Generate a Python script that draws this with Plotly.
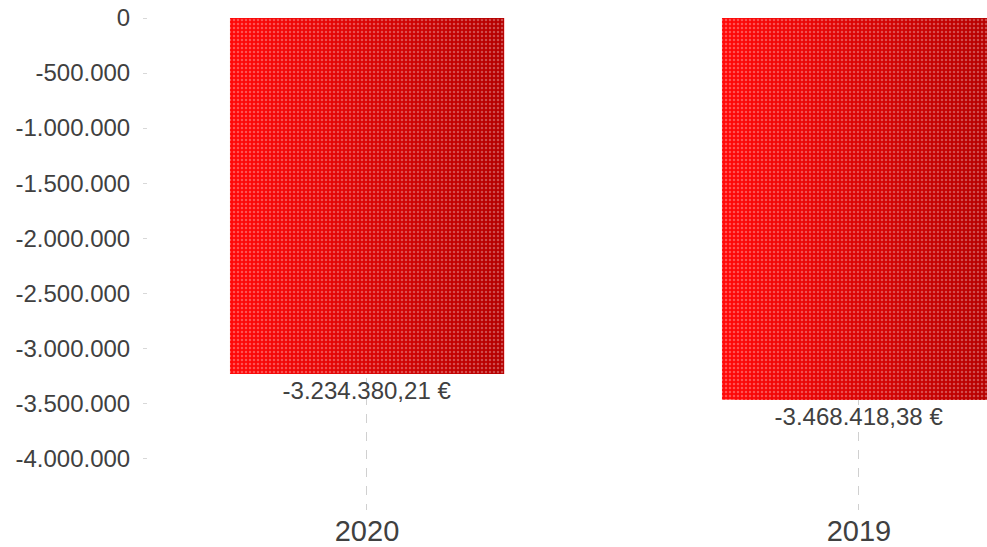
import plotly.graph_objects as go

# ---- data ----
years = ["2020", "2019"]
values = [-3234380.21, -3468418.38]
tick_vals = [0, -500000, -1000000, -1500000, -2000000, -2500000, -3000000, -3500000, -4000000]
tick_text = ["0", "-500.000", "-1.000.000", "-1.500.000", "-2.000.000",
             "-2.500.000", "-3.000.000", "-3.500.000", "-4.000.000"]


def fmt_eur(v):
    s = f"{abs(v):,.2f}"
    s = s.replace(",", "X").replace(".", ",").replace("X", ".")
    return ("-" if v < 0 else "") + s + " €"


labels = [fmt_eur(v) for v in values]

fig = go.Figure()

BAR_W = 0.557
N = 24
c0 = (255, 8, 8)
c1 = (182, 0, 0)
for k in range(N):
    t = k / (N - 1)
    col = "rgb({},{},{})".format(*[round(a + (b - a) * t) for a, b in zip(c0, c1)])
    w = BAR_W * (1 - k / N)
    fig.add_trace(go.Bar(
        x=years, y=values,
        width=[w] * len(years),
        offset=[-BAR_W / 2 + BAR_W * k / N] * len(years),
        marker=dict(color=col, line=dict(width=0),
                    pattern=dict(shape=".", size=4, solidity=0.3,
                                 fgcolor="rgba(255,255,255,0.6)", fillmode="overlay")),
        text=labels if k == 0 else None,
        textposition="outside" if k == 0 else "none",
        cliponaxis=False,
        textfont=dict(family="Liberation Sans, Arial", size=24, color="#404040"),
        showlegend=False,
        hoverinfo="skip",
    ))

fig.update_layout(
    width=987, height=547,
    margin=dict(l=148, r=0, t=18, b=37, autoexpand=False),
    barmode="overlay",
    plot_bgcolor="white", paper_bgcolor="white",
    font=dict(family="Liberation Sans, Arial", color="#404040"),
    xaxis=dict(
        type="category",
        range=[-0.4451, 1.2602],
        showgrid=True, gridcolor="#d0d0d0", griddash="dash", gridwidth=1,
        showline=False, zeroline=False,
        ticks="", ticklabelstandoff=1,
        tickfont=dict(size=29, color="#404040"),
        automargin=False,
        fixedrange=True,
    ),
    yaxis=dict(
        range=[-4470000, 0],
        tickvals=tick_vals, ticktext=tick_text,
        showgrid=False, zeroline=False, showline=False,
        ticks="outside", ticklen=4, tickcolor="#d8d8d8",
        ticklabelstandoff=8,
        tickfont=dict(size=24, color="#404040"),
        automargin=False,
        fixedrange=True,
    ),
)

fig.write_html("out.html",
               config={"displayModeBar": False, "staticPlot": True},
               post_script="document.body.style.margin='0';document.body.style.overflow='hidden';")
